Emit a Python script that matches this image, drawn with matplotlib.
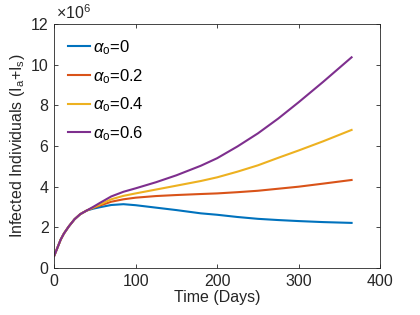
import numpy as np
import matplotlib
matplotlib.use('Agg')
import matplotlib.pyplot as plt

plt.rcParams['font.family'] = ['Liberation Sans', 'DejaVu Sans']
plt.rcParams['mathtext.fontset'] = 'custom'
plt.rcParams['mathtext.rm'] = 'Liberation Sans'
plt.rcParams['mathtext.it'] = 'Liberation Sans:italic'

# time (days) and infected individuals, in millions
days = [0, 4, 8, 12, 18, 25, 32, 40, 48, 56, 70, 85, 100, 125, 150, 180,
        200, 225, 250, 275, 300, 330, 365]
start = [0.6, 1.0, 1.4, 1.7, 2.05, 2.4, 2.65, 2.83]
inf_a0 = start + [2.92, 2.99, 3.1, 3.14, 3.09, 2.97, 2.85, 2.69, 2.62,
                  2.51, 2.42, 2.36, 2.31, 2.26, 2.22]
inf_a02 = start + [2.96, 3.07, 3.26, 3.38, 3.46, 3.54, 3.59, 3.64, 3.67,
                   3.73, 3.80, 3.90, 4.00, 4.15, 4.33]
inf_a04 = start + [2.98, 3.12, 3.38, 3.55, 3.67, 3.86, 4.05, 4.28, 4.46,
                   4.74, 5.05, 5.42, 5.78, 6.23, 6.79]
inf_a06 = start + [3.01, 3.2, 3.52, 3.75, 3.92, 4.22, 4.56, 5.03, 5.40,
                   5.98, 6.62, 7.35, 8.15, 9.15, 10.36]

series = [inf_a0, inf_a02, inf_a04, inf_a06]
labels = [r'$\alpha_\mathrm{o}$=0', r'$\alpha_\mathrm{o}$=0.2',
          r'$\alpha_\mathrm{o}$=0.4', r'$\alpha_\mathrm{o}$=0.6']
colors = ['#0072BD', '#D95319', '#EDB120', '#7E2F8E']

fig = plt.figure(figsize=(4.2, 3.15), dpi=100)
ax = fig.add_axes([0.129, 0.149, 0.776, 0.775])

for vals, lab, col in zip(series, labels, colors):
    ax.plot(days, vals, color=col, lw=1.5, label=lab)

ax.set_xlim(0, 400)
ax.set_ylim(0, 12)
ax.set_xticks([0, 100, 200, 300, 400])
ax.set_yticks(np.arange(0, 13, 2))

gray = '#262626'
ax.text(0.005, 1.006, r'$\times10^{6}$', transform=ax.transAxes,
        ha='left', va='bottom', fontsize=11.5, color=gray)

for s in ax.spines.values():
    s.set_color(gray)
    s.set_linewidth(0.6)
ax.tick_params(direction='in', top=True, right=True, length=3,
               width=0.6, colors=gray, labelsize=11.5, pad=4)

ax.set_xlabel('Time (Days)', fontsize=11.5, color=gray, labelpad=1)
ax.set_ylabel(r'Infected Individuals (I$_\mathrm{a}$+I$_\mathrm{s}$)',
              fontsize=11.5, color=gray, labelpad=3)

ax.legend(loc='upper left', frameon=False, fontsize=12, handlelength=1.3,
          handletextpad=0.16, labelspacing=0.6, borderpad=0.3,
          borderaxespad=0.55)

fig.savefig('out.png', dpi=100)
